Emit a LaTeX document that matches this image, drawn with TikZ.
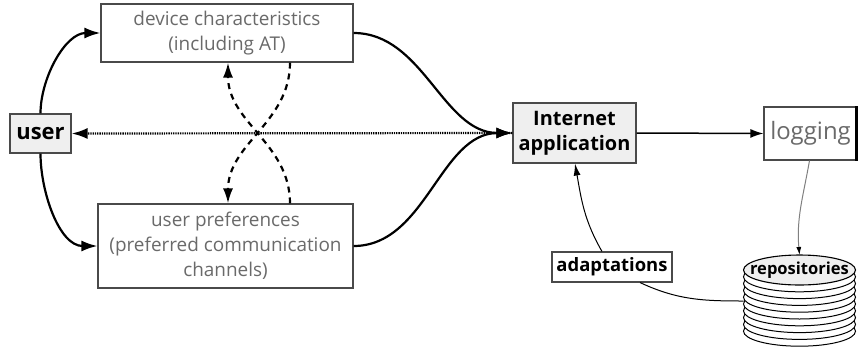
\documentclass[tikz,border=0pt]{standalone}
\usepackage{fontspec}
\setmainfont{Open Sans}
\usetikzlibrary{arrows.meta,calc}
\definecolor{boxline}{HTML}{4A4A4A}
\definecolor{softtext}{HTML}{6A6A6A}
\definecolor{panel}{HTML}{EFEFEF}
\begin{document}
\begin{tikzpicture}[x=1bp,y=1bp,
  box/.style={draw=boxline,line width=1.1bp,fill=white,inner sep=0pt,align=center},
  plainbox/.style={box,text=softtext,font=\fontsize{19}{25}\selectfont},
  keybox/.style={box,fill=panel,font=\bfseries\fontsize{20}{25}\selectfont},
  flow/.style={line width=2.2bp,-{Latex[length=16bp,width=11bp]}},
  swap/.style={line width=2.2bp,dash pattern=on 6bp off 5bp,-{Latex[length=15bp,width=10bp]}},
  feedback/.style={line width=2.2bp,dash pattern=on 1.3bp off 1bp,-{Latex[length=16bp,width=11bp]}}]
\useasboundingbox (0,0) rectangle (858,-351);

% information sources
\node[plainbox,minimum width=252bp,minimum height=58bp] (dev) at (227,-33)
  {device characteristics\\(including AT)};
\node[plainbox,minimum width=255bp,minimum height=84bp] (pref) at (225.5,-246)
  {user preferences\\(preferred communication\\channels)};
\node[keybox,minimum width=61bp,minimum height=39bp,font=\bfseries\fontsize{22}{24}\selectfont] (user) at (40.5,-133.5) {user};

% application side
\node[keybox,minimum width=123bp,minimum height=60bp] (app) at (574.5,-133)
  {Internet\\application};
\node[box,text=softtext,font=\fontsize{24}{26}\selectfont,minimum width=93bp,minimum height=53bp] (log) at (810.5,-133.5) {logging};
\draw[line width=2.5bp] ([xshift=-1bp]log.north east) -- ([xshift=-1bp]log.south east);
\node[box,font=\bfseries\fontsize{18.5}{20}\selectfont,minimum width=120bp,minimum height=30bp] (ad) at (612,-267) {adaptations};

% repositories: a stack of discs with a shaded top
\foreach \k in {9,8,...,1}
  \draw[line width=1bp,fill=white] (799.5,-270-6.8*\k) ellipse [x radius=56,y radius=15];
\draw[line width=1.1bp,fill=panel] (799.5,-270) ellipse [x radius=56,y radius=15];
\node[inner sep=0pt,font=\bfseries\fontsize{16.6}{18}\selectfont] (repo) at (799.5,-270.5) {repositories};
\coordinate (repotop) at (799.5,-255);
\coordinate (repoleft) at (743.5,-301);

% user to the two sources
\draw[flow] (user.north) to[out=90,in=180,looseness=0.9] (dev.west);
\draw[flow] (user.south) to[out=-90,in=180,looseness=0.9] (pref.west);

% sources to the application
\draw[flow] (dev.east) to[out=0,in=180,looseness=0.95] (app.west);
\draw[flow] (pref.east) to[out=0,in=180,looseness=0.95] (app.west);
\draw[feedback] (app.west) -- (user.east);

% sources influence each other
\draw[swap] ($(dev.south)+(63,0)$) to[out=-90,in=90] ($(pref.north)+(2.5,0)$);
\draw[swap] ($(pref.north)+(64.5,0)$) to[out=90,in=-90] ($(dev.south)+(1,0)$);

% logging and adaptation loop
\draw[line width=1.5bp,-{Latex[length=13bp,width=9bp]}] (app.east) -- (log.west);
\draw[gray,line width=1bp,-{Latex[length=8bp,width=5bp,black]}] ($(log.south)+(-1,0)$) to[out=-100,in=95] (repotop);
\draw[line width=1bp] (repoleft) to[out=180,in=-25] ($(ad.south)+(28,0)$);
\draw[line width=1bp,-{Latex[length=12bp,width=7bp]}] ($(ad.north)+(-10,0)$) to[out=120,in=-80] ($(app.south)+(0.5,0)$);
\end{tikzpicture}
\end{document}
